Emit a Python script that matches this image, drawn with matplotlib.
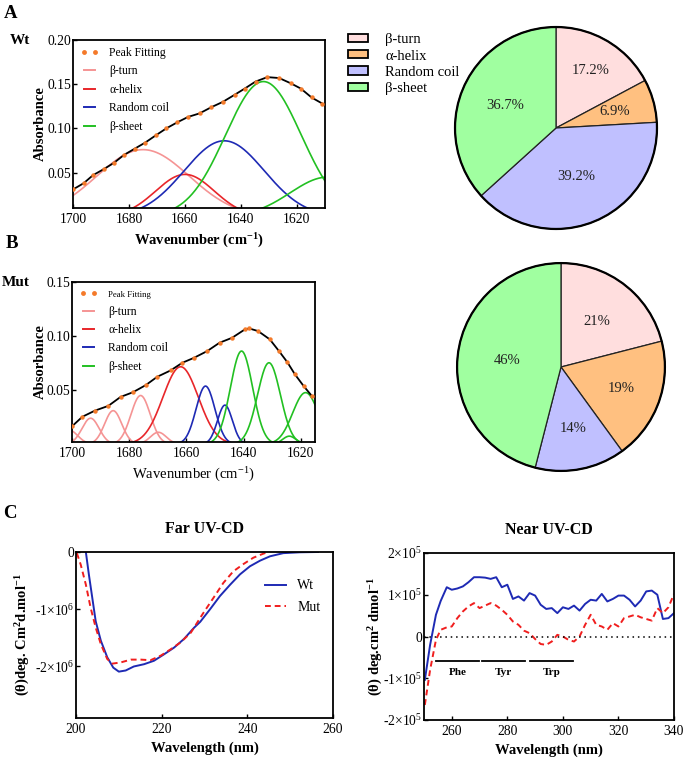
import numpy as np
import matplotlib.pyplot as plt
from matplotlib.lines import Line2D
from matplotlib.patches import Patch

plt.rcParams['font.family'] = ['Liberation Serif', 'DejaVu Serif']
plt.rcParams['mathtext.default'] = 'regular'
plt.rcParams['axes.linewidth'] = 1.3
plt.rcParams['xtick.direction'] = 'in'
plt.rcParams['ytick.direction'] = 'in'
plt.rcParams['xtick.major.width'] = 1.0
plt.rcParams['ytick.major.width'] = 1.0
plt.rcParams['xtick.major.size'] = 3
plt.rcParams['ytick.major.size'] = 3
plt.rcParams['xtick.major.pad'] = 3.5
plt.rcParams['ytick.major.pad'] = 1.5
plt.rcParams['xtick.labelsize'] = 9.8
plt.rcParams['ytick.labelsize'] = 9.8

# secondary structure classes
classes = ['β-turn', 'α-helix', 'Random coil', 'β-sheet']
line_colors = ['#F59494', '#E8262A', '#1E2AB4', '#22C022']
pie_colors = ['#FFDEDE', '#FFC080', '#C0C0FF', '#A0FFA0']
dot_color = '#F47A2A'

# ---- FTIR, Wt: measured spectrum (peak fitting points)
wt_wn = [1700, 1696.2, 1692.9, 1689, 1685.4, 1681.8, 1678, 1674.2, 1670.5, 1666.7,
         1662.7, 1658.9, 1654.8, 1650.6, 1646.5, 1642.3, 1638.7, 1634.8, 1630.6,
         1626.4, 1622.2, 1618.6, 1614.8, 1610.9]
wt_abs = [0.031, 0.038, 0.047, 0.054, 0.061, 0.070, 0.077, 0.084, 0.092, 0.100,
          0.107, 0.113, 0.117, 0.124, 0.130, 0.138, 0.145, 0.153, 0.158,
          0.157, 0.151, 0.145, 0.135, 0.128]
# Wt fitted bands: centre (cm-1), height, width (sigma), class
wt_band_center = [1675, 1660, 1646, 1632, 1609]
wt_band_height = [0.076, 0.048, 0.086, 0.153, 0.045]
wt_band_sigma = [16.5, 10.5, 14.3, 13.5, 13.4]
wt_band_class = [0, 1, 2, 3, 3]

# ---- FTIR, Mut
mut_wn = [1700, 1696.4, 1692, 1687.3, 1683, 1678.7, 1674.2, 1670.2, 1665.5, 1661.4,
          1657.3, 1652.7, 1648.4, 1644, 1639.5, 1638, 1634.9, 1630.8, 1627.6,
          1624.7, 1622, 1618.9, 1616]
mut_abs = [0.0165, 0.0253, 0.031, 0.0354, 0.0437, 0.048, 0.0546, 0.0623, 0.0682, 0.0753,
           0.0799, 0.0861, 0.0938, 0.0984, 0.1062, 0.107, 0.1046, 0.0969, 0.0861,
           0.0759, 0.0645, 0.0535, 0.0443]
mut_band_center = [1701, 1693.5, 1685.6, 1676, 1669.8, 1662, 1653.3, 1646.5,
                   1640.7, 1631.1, 1624, 1618.3]
mut_band_height = [0.013, 0.024, 0.031, 0.045, 0.011, 0.0716, 0.0537, 0.0361,
                   0.0861, 0.0753, 0.0074, 0.0477]
mut_band_sigma = [3.0, 3.0, 3.0, 3.4, 2.8, 6.2, 3.3, 2.6, 3.9, 4.0, 2.3, 4.5]
mut_band_class = [0, 0, 0, 0, 0, 1, 2, 2, 3, 3, 3, 3]

# ---- secondary structure content (%)
wt_pct = [17.2, 6.9, 39.2, 36.7]
mut_pct = [21, 19, 14, 46]

# ---- Far UV-CD
far_wt_nm = [202.3, 203.0, 203.8, 204.6, 205.8, 207.3, 208.7, 210.0, 211.6, 213.5,
             215.9, 218.2, 220.5, 222.9, 225.2, 227.6, 229.0, 231.3, 233.6, 236.0,
             238.3, 240.6, 243.0, 245.3, 248.4, 252.3, 256.5]
far_wt = [0, -0.39e6, -0.80e6, -1.21e6, -1.55e6, -1.84e6, -2.02e6, -2.09e6, -2.07e6, -2.0e6,
          -1.96e6, -1.90e6, -1.79e6, -1.67e6, -1.52e6, -1.32e6, -1.22e6, -1.0e6, -0.77e6, -0.57e6,
          -0.39e6, -0.25e6, -0.15e6, -0.075e6, -0.02e6, -0.005e6, 0]
far_mut_nm = [200.2, 201.1, 202.3, 203.4, 204.6, 205.8, 207.3, 208.5, 210.4, 212.8,
              215.1, 217.4, 219.8, 222.1, 224.4, 226.8, 229.6, 232.1, 234.4, 236.7,
              239.1, 241.4, 243.7, 244.9]
far_mut = [-0.02e6, -0.22e6, -0.57e6, -0.97e6, -1.32e6, -1.61e6, -1.87e6, -1.95e6, -1.93e6, -1.88e6,
           -1.88e6, -1.89e6, -1.81e6, -1.70e6, -1.58e6, -1.41e6, -1.08e6, -0.80e6, -0.54e6, -0.34e6,
           -0.21e6, -0.10e6, -0.03e6, 0]

# ---- Near UV-CD
near_nm = [250.3, 252.2, 254.3, 256, 258.2, 260, 262, 264, 266, 268, 270, 272, 274, 276, 278,
           280, 282, 284, 286, 288, 290, 292, 294, 296, 298, 300, 302, 304, 306, 308, 310,
           312, 314, 316, 318, 320, 322, 324, 326, 328, 330, 332, 334, 336, 338, 340]
near_wt = [-1.04e5, -0.2e5, 0.52e5, 0.85e5, 1.18e5, 1.12e5, 1.15e5, 1.2e5, 1.3e5, 1.42e5, 1.42e5,
           1.41e5, 1.38e5, 1.42e5, 1.18e5, 1.24e5, 0.9e5, 0.96e5, 0.86e5, 1.04e5, 0.98e5, 0.76e5,
           0.66e5, 0.68e5, 0.56e5, 0.70e5, 0.66e5, 0.74e5, 0.62e5, 0.78e5, 0.88e5, 0.86e5, 1.02e5,
           0.84e5, 0.9e5, 0.98e5, 0.98e5, 0.88e5, 0.72e5, 0.86e5, 1.08e5, 1.1e5, 1.0e5, 0.42e5,
           0.44e5, 0.56e5]
near_mut = [-1.64e5, -0.8e5, -0.08e5, 0.16e5, 0.22e5, 0.24e5, 0.44e5, 0.6e5, 0.72e5, 0.8e5, 0.68e5,
            0.74e5, 0.8e5, 0.74e5, 0.64e5, 0.52e5, 0.36e5, 0.28e5, 0.14e5, 0.08e5, -0.06e5, -0.18e5,
            -0.2e5, -0.12e5, 0.04e5, 0, -0.08e5, -0.12e5, 0, 0.28e5, 0.52e5, 0.28e5, 0.24e5, 0.16e5,
            0.32e5, 0.24e5, 0.44e5, 0.48e5, 0.52e5, 0.46e5, 0.42e5, 0.38e5, 0.68e5, 0.56e5, 0.7e5,
            1.02e5]
aa_names = ['Phe', 'Tyr', 'Trp']
aa_start = [254.3, 271, 288]
aa_end = [269.9, 286.5, 303.7]

W, H = 685, 759
fig = plt.figure(figsize=(W / 100, H / 100), dpi=100)


def ax_px(left, top, right, bottom):
    return fig.add_axes([left / W, 1 - bottom / H, (right - left) / W, (bottom - top) / H])


def ftir(ax, wn, ab, centers, heights, sigmas, cls, xlim, ylim, yticks, bold_x, pf_size):
    grid = np.linspace(xlim[0], xlim[1], 500)
    for c, h, s, k in zip(centers, heights, sigmas, cls):
        ax.plot(grid, h * np.exp(-(grid - c) ** 2 / (2 * s ** 2)), color=line_colors[k], lw=1.2)
    ax.plot(wn, ab, color='black', lw=1.3, zorder=4)
    ax.plot(wn, ab, 'o', color=dot_color, ms=3.2, zorder=5, mew=0)
    ax.set_xlim(*xlim)
    ax.set_ylim(*ylim)
    ax.set_xticks([1700, 1680, 1660, 1640, 1620])
    ax.set_yticks(yticks)
    ax.set_yticklabels([f'{v:.2f}' for v in yticks])
    ax.set_ylabel('Absorbance', fontsize=10.5, fontweight='bold')
    ax.yaxis.set_label_coords(-0.105, 0.5)
    ax.set_xlabel('Wavenumber (cm$^{-1}$)', fontsize=10.5, fontweight='bold' if bold_x else 'normal')
    handles = [Line2D([], [], ls='', marker='o', color=dot_color, ms=3.5, mew=0)]
    handles += [Line2D([], [], color=c, lw=1.4) for c in line_colors]
    leg = ax.legend(handles, ['Peak Fitting'] + classes, loc='upper left', frameon=False,
                    fontsize=8.4, numpoints=2, handlelength=1.6, handletextpad=0.9,
                    labelspacing=0.55, borderaxespad=0.2, bbox_to_anchor=(0.0, 1.0))
    leg.get_texts()[0].set_fontsize(pf_size)


def pie(ax, pct, fmt, label_r):
    wedges, texts, autotexts = ax.pie(pct, colors=pie_colors, startangle=90, counterclock=False,
                                      autopct=fmt, pctdistance=0.6,
                                      wedgeprops=dict(edgecolor='#222222', linewidth=0.9))
    for t, r in zip(autotexts, label_r):
        x, y = t.get_position()
        t.set_position((x / 0.6 * r, y / 0.6 * r))
        t.set_fontsize(10.5)
        t.set_color('#222222')
    ax.add_patch(plt.Circle((0, 0), 1.0, fill=False, ec='black', lw=1.6))
    ax.set_aspect('equal')
    ax.set_xlim(-1.02, 1.02)
    ax.set_ylim(-1.02, 1.02)


# A
axA = ax_px(73, 40, 325, 208)
ftir(axA, wt_wn, wt_abs, wt_band_center, wt_band_height, wt_band_sigma, wt_band_class,
     (1700, 1610), (0.01, 0.20), [0.05, 0.10, 0.15, 0.20], True, 8.4)
pA = ax_px(453, 25, 659, 231)
pie(pA, wt_pct, lambda p: f'{p:.1f}%', [0.66, 0.6, 0.52, 0.55])

fig.legend([Patch(facecolor=c, edgecolor='black', lw=1.3) for c in pie_colors], classes,
           loc='upper left', bbox_to_anchor=(341 / W, 1 - 26 / H), frameon=False, fontsize=10.5,
           handlelength=1.35, handleheight=0.5, handletextpad=1.2, labelspacing=0.22, borderpad=0)

# B
axB = ax_px(72, 282, 315, 442)
ftir(axB, mut_wn, mut_abs, mut_band_center, mut_band_height, mut_band_sigma, mut_band_class,
     (1700, 1615), (0.002, 0.15), [0.05, 0.10, 0.15], False, 6.3)
pB = ax_px(455, 261, 667, 473)
pie(pB, mut_pct, '%.0f%%', [0.56, 0.62, 0.6, 0.52])

# C left: Far UV-CD
axC = ax_px(76, 552, 333, 718)
axC.plot(far_wt_nm, far_wt, color='#1E2AB4', lw=1.4, label='Wt')
axC.plot(far_mut_nm, far_mut, color='#F01E1E', lw=1.4, ls=(0, (3, 2)), label='Mut')
axC.set_xlim(200, 260)
axC.set_ylim(-2.9e6, 0)
axC.set_xticks([200, 220, 240, 260])
axC.set_yticks([0, -1e6, -2e6])
axC.set_yticklabels(['0', '-1×10$^6$', '-2×10$^6$'])
axC.set_xlabel('Wavelength (nm)', fontsize=10.5, fontweight='bold')
axC.set_ylabel('(θ)deg. Cm$^2$d.mol$^{-1}$', fontsize=10.5, fontweight='bold')
axC.yaxis.set_label_coords(-0.17, 0.5)
axC.set_title('Far UV-CD', fontsize=11.5, fontweight='bold', pad=14)
axC.legend(loc='upper right', bbox_to_anchor=(1.0, 0.91), frameon=False, fontsize=10,
           handlelength=1.5, labelspacing=0.6)

# C right: Near UV-CD
axD = ax_px(424, 553, 674, 720)
axD.plot(near_nm, near_wt, color='#1E2AB4', lw=1.4)
axD.plot(near_nm, near_mut, color='#F01E1E', lw=1.4, ls=(0, (3, 2)))
axD.axhline(0, color='black', lw=1.1, ls=(0, (1, 2.5)))
for name, a, b in zip(aa_names, aa_start, aa_end):
    axD.plot([a, b], [-0.58e5, -0.58e5], color='black', lw=1.3)
    axD.text((a + b) / 2, -0.86e5, name, ha='center', va='center', fontsize=8, fontweight='bold')
axD.set_xlim(250, 340)
axD.set_ylim(-2e5, 2e5)
axD.set_xticks([260, 280, 300, 320, 340])
axD.set_yticks([2e5, 1e5, 0, -1e5, -2e5])
axD.set_yticklabels(['2×10$^5$', '1×10$^5$', '0', '-1×10$^5$', '-2×10$^5$'])
axD.set_xlabel('Wavelength (nm)', fontsize=10.5, fontweight='bold')
axD.set_ylabel('(θ) deg.cm$^2$ dmol$^{-1}$', fontsize=10.5, fontweight='bold')
axD.yaxis.set_label_coords(-0.155, 0.5)
axD.set_title('Near UV-CD', fontsize=11.5, fontweight='bold', pad=14)

# panel letters
for s, x, y, fs in [('A', 11, 13, 13.5), ('Wt', 20, 40, 11), ('B', 12, 243, 13.5),
                    ('Mut', 16, 283, 11), ('C', 10, 514, 13.5)]:
    fig.text(x / W, 1 - y / H, s, fontsize=fs, fontweight='bold', ha='center', va='center')

fig.savefig('out.png', dpi=100)
